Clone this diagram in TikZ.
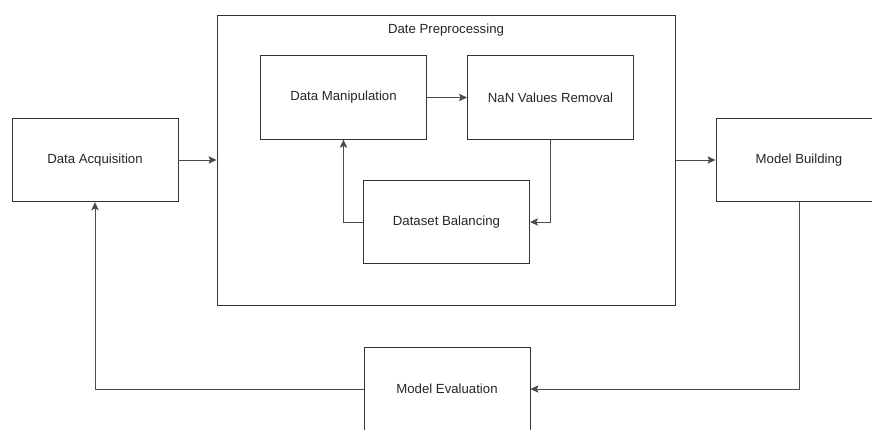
\documentclass[tikz,border=0pt]{standalone}
\usepackage{fontspec}
\setmainfont{Liberation Sans}
\usetikzlibrary{arrows.meta}
\begin{document}
\begin{tikzpicture}[x=0.75pt,y=-0.75pt,
  lbl/.style={font=\fontsize{9.9pt}{12pt}\selectfont,text=black!85},
  box/.style={draw=black!80,line width=0.7pt,fill=white,minimum width=124.5pt,minimum height=62.5pt,inner sep=0pt,lbl},
  conn/.style={draw=black!70,line width=0.7pt,-{Stealth[length=6pt,width=5.5pt,inset=1.2pt]}}]
\useasboundingbox (0,0) rectangle (872,429);
\clip (0,0) rectangle (872,429);
\node[draw=black!80,line width=0.7pt,minimum width=343.5pt,minimum height=217.5pt,inner sep=0pt] (pre) at (446,160) {};
\node[lbl] (pretitle) at (446,30) {Date Preprocessing};
\node[box] (da) at (95,160) {Data Acquisition};
\node[box] (dm) at (343.5,97.5) {Data Manipulation};
\node[box] (nan) at (550.5,97.5) {NaN Values Removal};
\node[box] (db) at (446.5,222) {Dataset Balancing};
\node[box] (mb) at (799,160) {Model Building};
\node[box] (me) at (447,389) {Model Evaluation};
\draw[conn] (da.east) -- (pre.west |- da.east);
\draw[conn] (pre.east |- mb.west) -- (mb.west);
\draw[conn] (dm.east) -- (nan.west);
\draw[conn] (nan.south) |- (db.east);
\draw[conn] (db.west) -| (dm.south);
\draw[conn] (mb.south) |- (me.east);
\draw[conn] (me.west) -| (da.south);
\end{tikzpicture}
\end{document}
